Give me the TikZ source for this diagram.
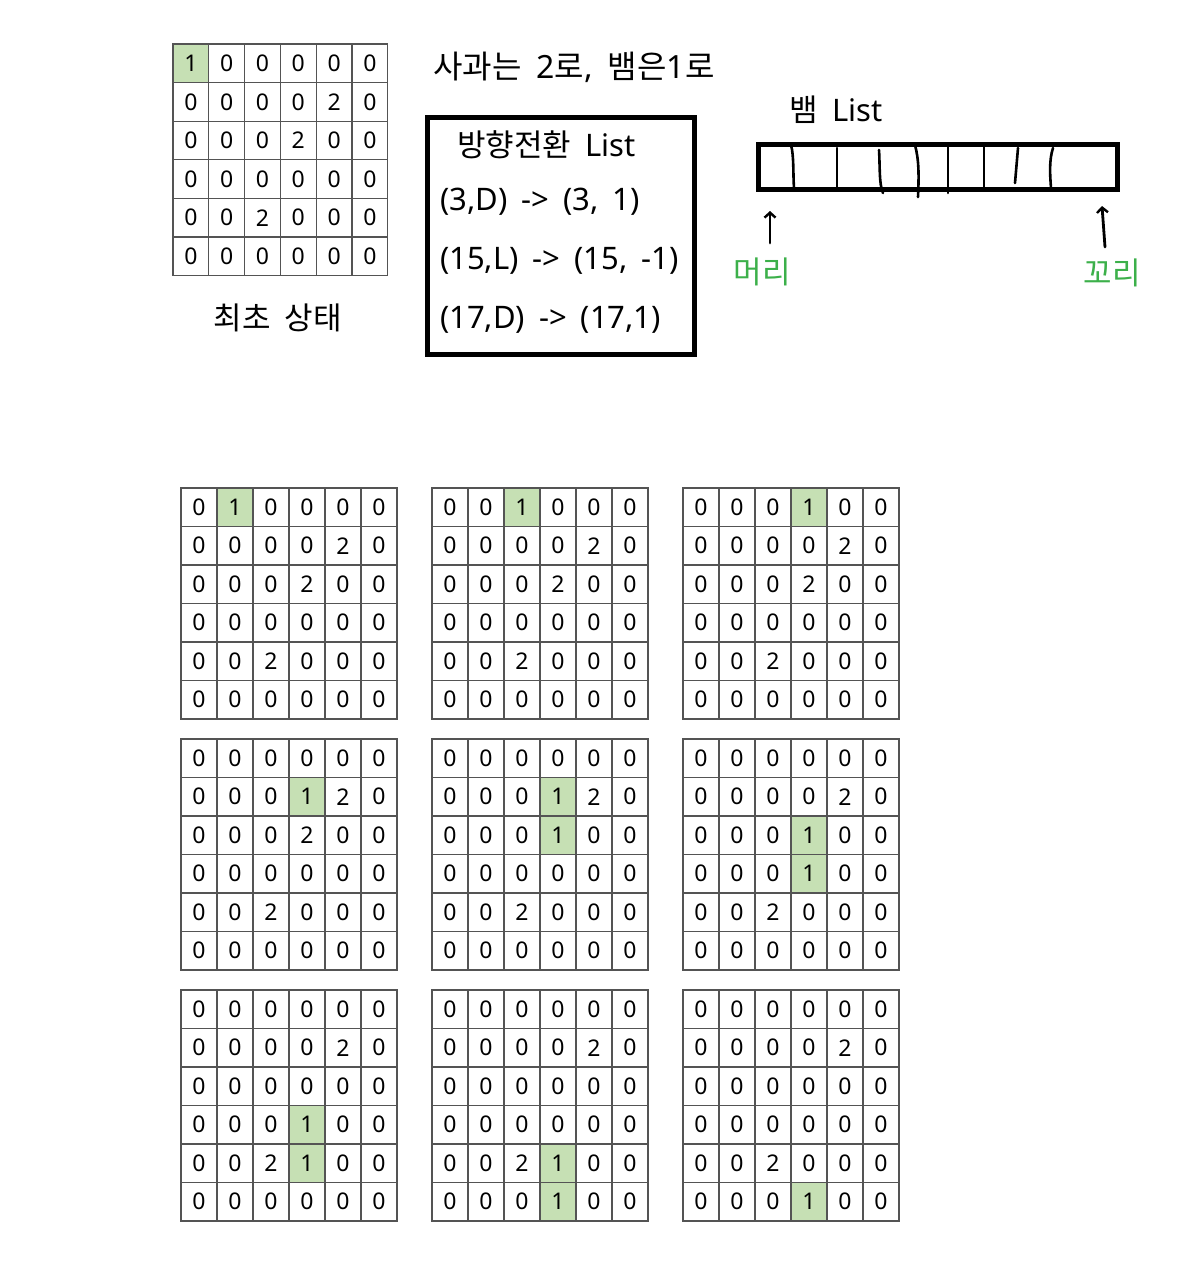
\documentclass[tikz,border=0pt]{standalone}
\usepackage{fontspec}
\setmainfont{Noto Sans}
\newfontfamily\kr{Noto Sans CJK KR}
\usetikzlibrary{arrows.meta}
\definecolor{cellgreen}{HTML}{C6E0B4}
\definecolor{labgreen}{RGB}{60,176,74}
\definecolor{gridline}{gray}{0.33}
\newcommand{\mybigfont}{\fontsize{31}{37}\selectfont\spaceskip=14pt\relax}
\newcommand{\mytitlefont}{\fontsize{32}{38}\selectfont\spaceskip=15pt\relax}
\tikzset{
  cell/.style={draw=gridline, line width=1.3pt, inner sep=0pt, font=\fontsize{23}{28}\selectfont},
  bigtext/.style={inner sep=0pt, font=\mybigfont},
  thickbox/.style={draw=black, line width=5pt, inner sep=0pt},
  handline/.style={line width=2.6pt, line cap=round},
  handarrow/.style={line width=2.8pt, line cap=round, -{Straight Barb[length=5pt,width=11pt,line width=2.4pt]}},
}
\newcommand{\snakegrid}[6]{%
  \foreach \row [count=\i] in {#6} {
    \foreach \v [count=\j] in \row {
      \ifnum\v=1 \def\cf{cellgreen}\else\def\cf{none}\fi
      \node[cell, minimum width=#4pt, minimum height=#5pt, fill=\cf] (#1-\i-\j) at ({#2+(\j-0.5)*#4}, {#3+(\i-0.5)*#5}) {\v};
    }
  }
}
\begin{document}
\begin{tikzpicture}[x=1pt,y=-1pt]
\fill[white] (0,0) rectangle (1199,1280);
\useasboundingbox (0,0) rectangle (1199,1280);

% initial state
\snakegrid{init}{173}{44}{35.8}{38.6}{{1,0,0,0,0,0},{0,0,0,0,2,0},{0,0,0,2,0,0},{0,0,0,0,0,0},{0,0,2,0,0,0},{0,0,0,0,0,0}}
\node[bigtext] (inittitle) at (278,318) {\kr 최초 상태};

% title
\node[bigtext, anchor=west, font=\mytitlefont] (title) at (433,67) {{\kr 사과는} 2{\kr 로}, {\kr 뱀은}1{\kr 로}};

% turn list box
\node[thickbox, minimum width=267pt, minimum height=237pt] (turnbox) at (561,236) {};
\node[bigtext, anchor=west] (turntitle) at (457,145) {{\kr 방향전환} List};
\node[bigtext, anchor=west] (turn1) at (440,202) {(3,D) -> (3, 1)};
\node[bigtext, anchor=west] (turn2) at (440,261) {(15,L) -> (15, -1)};
\node[bigtext, anchor=west] (turn3) at (440,320) {(17,D) -> (17,1)};

% snake list
\node[bigtext] (snaketitle) at (836,110) {{\kr 뱀} List};
\node[thickbox, minimum width=359pt, minimum height=45pt] (snakebox) at (937.5,167) {};
\draw[handline] (791,145) .. controls (794,155) and (793,175) .. (794,188);
\draw[handline] (837,148) -- (837,188);
\draw[handline] (879,150) .. controls (880,165) and (879,185) .. (883,193);
\draw[handline] (915,145) .. controls (919,160) and (919,175) .. (918,197);
\draw[handline] (948,147) -- (948,193);
\draw[handline] (984,147) -- (984,188);
\draw[handline] (1018,148) -- (1015,183);
\draw[handline] (1053,148) .. controls (1049,160) and (1050,175) .. (1051,188);

\coordinate (headfrom) at (770,243);
\coordinate (headto) at (770,211);
\coordinate (tailfrom) at (1105,247);
\coordinate (tailto) at (1102,206);
\draw[handarrow] (headfrom) -- (headto);
\draw[handarrow] (tailfrom) -- (tailto);
\node[bigtext, text=labgreen] (headlabel) at (762,272) {\kr 머리};
\node[bigtext, text=labgreen] (taillabel) at (1112,273) {\kr 꼬리};

% steps
\snakegrid{s1}{181}{488}{36}{38.5}{{0,1,0,0,0,0},{0,0,0,0,2,0},{0,0,0,2,0,0},{0,0,0,0,0,0},{0,0,2,0,0,0},{0,0,0,0,0,0}}
\snakegrid{s2}{432}{488}{36}{38.5}{{0,0,1,0,0,0},{0,0,0,0,2,0},{0,0,0,2,0,0},{0,0,0,0,0,0},{0,0,2,0,0,0},{0,0,0,0,0,0}}
\snakegrid{s3}{683}{488}{36}{38.5}{{0,0,0,1,0,0},{0,0,0,0,2,0},{0,0,0,2,0,0},{0,0,0,0,0,0},{0,0,2,0,0,0},{0,0,0,0,0,0}}
\snakegrid{s4}{181}{739}{36}{38.5}{{0,0,0,0,0,0},{0,0,0,1,2,0},{0,0,0,2,0,0},{0,0,0,0,0,0},{0,0,2,0,0,0},{0,0,0,0,0,0}}
\snakegrid{s5}{432}{739}{36}{38.5}{{0,0,0,0,0,0},{0,0,0,1,2,0},{0,0,0,1,0,0},{0,0,0,0,0,0},{0,0,2,0,0,0},{0,0,0,0,0,0}}
\snakegrid{s6}{683}{739}{36}{38.5}{{0,0,0,0,0,0},{0,0,0,0,2,0},{0,0,0,1,0,0},{0,0,0,1,0,0},{0,0,2,0,0,0},{0,0,0,0,0,0}}
\snakegrid{s7}{181}{990}{36}{38.5}{{0,0,0,0,0,0},{0,0,0,0,2,0},{0,0,0,0,0,0},{0,0,0,1,0,0},{0,0,2,1,0,0},{0,0,0,0,0,0}}
\snakegrid{s8}{432}{990}{36}{38.5}{{0,0,0,0,0,0},{0,0,0,0,2,0},{0,0,0,0,0,0},{0,0,0,0,0,0},{0,0,2,1,0,0},{0,0,0,1,0,0}}
\snakegrid{s9}{683}{990}{36}{38.5}{{0,0,0,0,0,0},{0,0,0,0,2,0},{0,0,0,0,0,0},{0,0,0,0,0,0},{0,0,2,0,0,0},{0,0,0,1,0,0}}
\end{tikzpicture}
\end{document}
